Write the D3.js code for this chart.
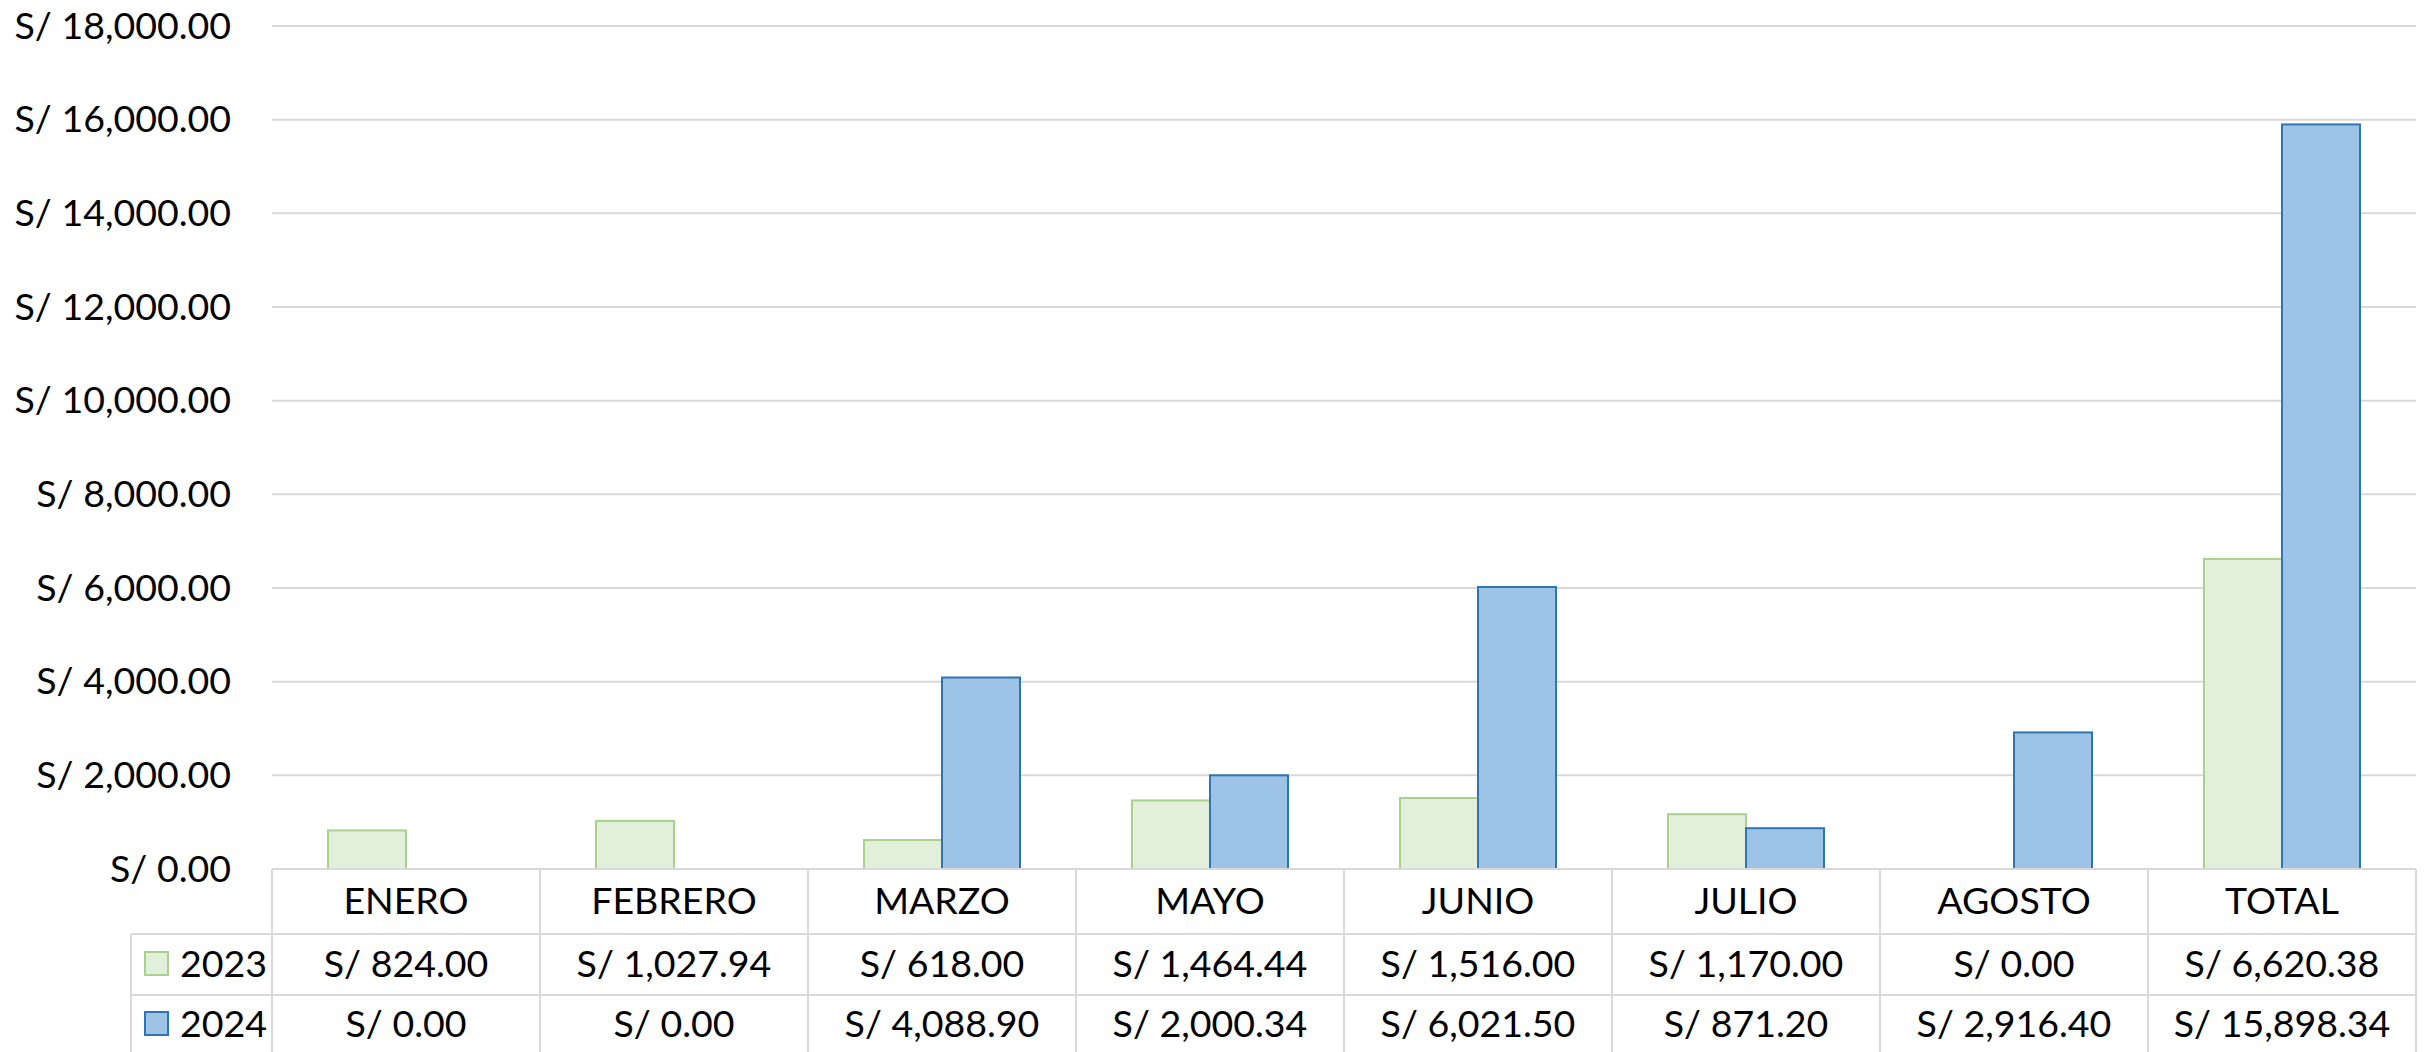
<!DOCTYPE html>
<html>
<head>
<meta charset="utf-8">
<script src="https://cdn.jsdelivr.net/npm/d3@7"></script>
<style>
  html, body { margin: 0; padding: 0; background: #fff; }
  svg { display: block; }
  text { font-family: Lato, "Noto Sans", sans-serif; fill: #000; }
</style>
</head>
<body>
<svg id="chart" width="2425" height="1052"></svg>
<script>
const categories = ["ENERO", "FEBRERO", "MARZO", "MAYO", "JUNIO", "JULIO", "AGOSTO", "TOTAL"];
const seriesNames = ["2023", "2024"];
const values2023 = [824.00, 1027.94, 618.00, 1464.44, 1516.00, 1170.00, 0.00, 6620.38];
const values2024 = [0.00, 0.00, 4088.90, 2000.34, 6021.50, 871.20, 2916.40, 15898.34];
const yTicks = [0, 2000, 4000, 6000, 8000, 10000, 12000, 14000, 16000, 18000];

const seriesValues = [values2023, values2024];
const fills = ["#E2EFDA", "#9DC3E6"];
const strokes = ["#A9D18E", "#2E75B6"];

const svg = d3.select("#chart");
const W = 2425, H = 1052;
const plotLeft = 272, plotRight = 2416, plotTop = 26, baseY = 869;
const fontSize = 37.5;
const gridColor = "#D9D9D9";

const x0 = d3.scaleBand().domain(categories).range([plotLeft, plotRight]).paddingInner(0).paddingOuter(0);
const x1 = d3.scaleBand().domain(seriesNames).range([0, x0.bandwidth()]).paddingInner(0).paddingOuter(0.718);
const y = d3.scaleLinear().domain([0, 18000]).range([baseY, plotTop]);

const fmt = v => "S/ " + d3.format(",.2f")(v);

// gridlines
svg.append("g").selectAll("line").data(yTicks.filter(t => t > 0)).join("line")
  .attr("x1", plotLeft).attr("x2", plotRight)
  .attr("y1", d => y(d)).attr("y2", d => y(d))
  .attr("stroke", gridColor).attr("stroke-width", 2);

// y axis
const yAxis = d3.axisLeft(y).tickValues(yTicks).tickSize(0).tickPadding(41).tickFormat(fmt);
const gy = svg.append("g").attr("transform", `translate(${plotLeft},0)`).call(yAxis);
gy.select(".domain").remove();
gy.selectAll("text").attr("font-size", fontSize).attr("font-family", "Lato, 'Noto Sans', sans-serif").attr("fill", "#000");

// bars
seriesNames.forEach((s, si) => {
  svg.append("g").selectAll("rect").data(categories).join("rect")
    .attr("x", (c) => x0(c) + x1(s))
    .attr("width", x1.bandwidth())
    .attr("y", (c, i) => y(seriesValues[si][i]))
    .attr("height", (c, i) => baseY - y(seriesValues[si][i]))
    .attr("fill", fills[si])
    .attr("stroke", strokes[si])
    .attr("stroke-width", 2)
    .attr("display", (c, i) => seriesValues[si][i] > 0 ? null : "none");
});

// data table
const rowTops = [869, 934, 995, 1056];
const legendLeft = 131;
const tg = svg.append("g").attr("stroke", gridColor).attr("stroke-width", 2);
tg.append("line").attr("x1", plotLeft).attr("x2", plotRight).attr("y1", rowTops[0]).attr("y2", rowTops[0]);
[1, 2].forEach(r => {
  tg.append("line").attr("x1", legendLeft).attr("x2", plotRight).attr("y1", rowTops[r]).attr("y2", rowTops[r]);
});
categories.forEach(c => {
  tg.append("line").attr("x1", x0(c)).attr("x2", x0(c)).attr("y1", rowTops[0]).attr("y2", H + 10);
});
tg.append("line").attr("x1", plotRight).attr("x2", plotRight).attr("y1", rowTops[0]).attr("y2", H + 10);
tg.append("line").attr("x1", legendLeft).attr("x2", legendLeft).attr("y1", rowTops[1]).attr("y2", H + 10);

// category labels
svg.append("g").selectAll("text").data(categories).join("text")
  .attr("x", c => x0(c) + x0.bandwidth() / 2)
  .attr("y", 914)
  .attr("text-anchor", "middle")
  .attr("font-size", fontSize)
  .text(c => c);

// value rows
const rowBaselines = [977, 1037];
seriesNames.forEach((s, si) => {
  svg.append("g").selectAll("text").data(categories).join("text")
    .attr("x", c => x0(c) + x0.bandwidth() / 2)
    .attr("y", rowBaselines[si])
    .attr("text-anchor", "middle")
    .attr("font-size", fontSize)
    .text((c, i) => fmt(seriesValues[si][i]));
  svg.append("rect")
    .attr("x", 145).attr("y", rowBaselines[si] - 25)
    .attr("width", 23).attr("height", 23)
    .attr("fill", fills[si]).attr("stroke", strokes[si]).attr("stroke-width", 2);
  svg.append("text")
    .attr("x", 180).attr("y", rowBaselines[si])
    .attr("font-size", fontSize)
    .text(s);
});
</script>
</body>
</html>
